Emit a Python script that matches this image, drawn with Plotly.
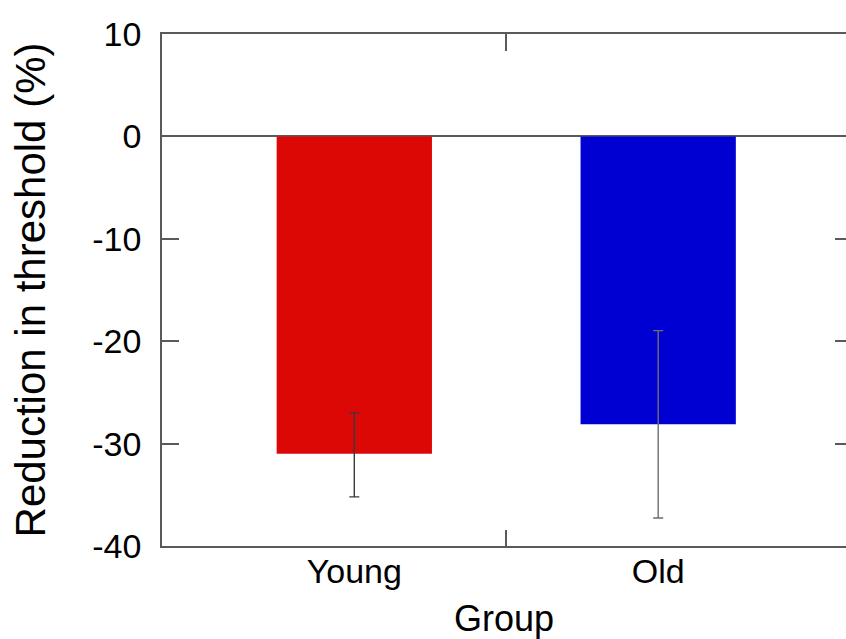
import plotly.graph_objects as go

groups = ["Young", "Old"]
positions = [1, 2]
reduction = [-31.0, -28.1]
err_up = [4.0, 9.13]
err_down = [4.2, 9.17]
bar_colors = ["#DC0806", "#0000D2"]
err_colors = ["#3a3a3a", "#6e6e6e"]
y_ticks = [10, 0, -10, -20, -30, -40]
y_tick_text = ["10", "0", "-10", "-20", "-30", "-40"]
x_mid_tick = [1.5]

FONT = "Liberation Sans, Arial, Helvetica, sans-serif"
AX = "#5a5a5a"

fig = go.Figure()
for g, p, v, eu, ed, c, ec in zip(groups, positions, reduction, err_up, err_down, bar_colors, err_colors):
    fig.add_trace(go.Bar(
        x=[p], y=[v], width=0.511, name=g,
        marker=dict(color=c, line=dict(width=0)),
        error_y=dict(type="data", symmetric=False, array=[eu], arrayminus=[ed],
                     color=ec, thickness=1.4, width=5),
        showlegend=False,
    ))

# invisible trace to carry the right-hand and top tick marks
fig.add_trace(go.Scatter(x=[positions[0]], y=[reduction[0]], xaxis="x2", yaxis="y2",
                         mode="markers", marker=dict(opacity=0), showlegend=False,
                         hoverinfo="skip"))

fig.update_layout(
    width=846, height=639,
    margin=dict(l=162, r=0, t=34, b=93),
    paper_bgcolor="white", plot_bgcolor="white",
    barmode="overlay",
    font=dict(family=FONT, size=34, color="black"),
    xaxis=dict(
        range=[0.3672, 2.618],
        tickvals=positions, ticktext=groups, ticks="",
        showline=True, linecolor=AX, linewidth=1.5, mirror=True,
        showgrid=False, zeroline=False,
        minor=dict(tickvals=x_mid_tick, ticks="inside", ticklen=16, tickcolor=AX, tickwidth=1.5, showgrid=False),
        tickfont=dict(size=34, family=FONT),
        ticklabelstandoff=-6,
        title=dict(text="Group", font=dict(size=36, family=FONT), standoff=17),
    ),
    xaxis2=dict(
        overlaying="x", side="top", anchor="y", range=[0.3672, 2.618],
        tickvals=x_mid_tick, ticks="inside", ticklen=17, tickcolor=AX, tickwidth=1.5,
        showticklabels=False, showline=False, showgrid=False, zeroline=False,
    ),
    yaxis=dict(
        range=[-40, 10], tickvals=y_ticks, ticktext=y_tick_text,
        ticks="inside", ticklen=17, tickcolor=AX, tickwidth=1.5,
        showline=True, linecolor=AX, linewidth=1.5, mirror=False,
        showgrid=False,
        zeroline=True, zerolinecolor=AX, zerolinewidth=1.5,
        tickfont=dict(size=34, family=FONT),
        ticklabelstandoff=12,
        title=dict(text="Reduction in threshold (%)", font=dict(size=42, family=FONT), standoff=34),
    ),
    yaxis2=dict(
        overlaying="y", side="right", range=[-40, 10], tickvals=y_ticks,
        ticks="inside", ticklen=11, tickcolor=AX, tickwidth=1.5,
        showticklabels=False, showline=False, showgrid=False, zeroline=False,
    ),
)

fig.write_html("out.html")
